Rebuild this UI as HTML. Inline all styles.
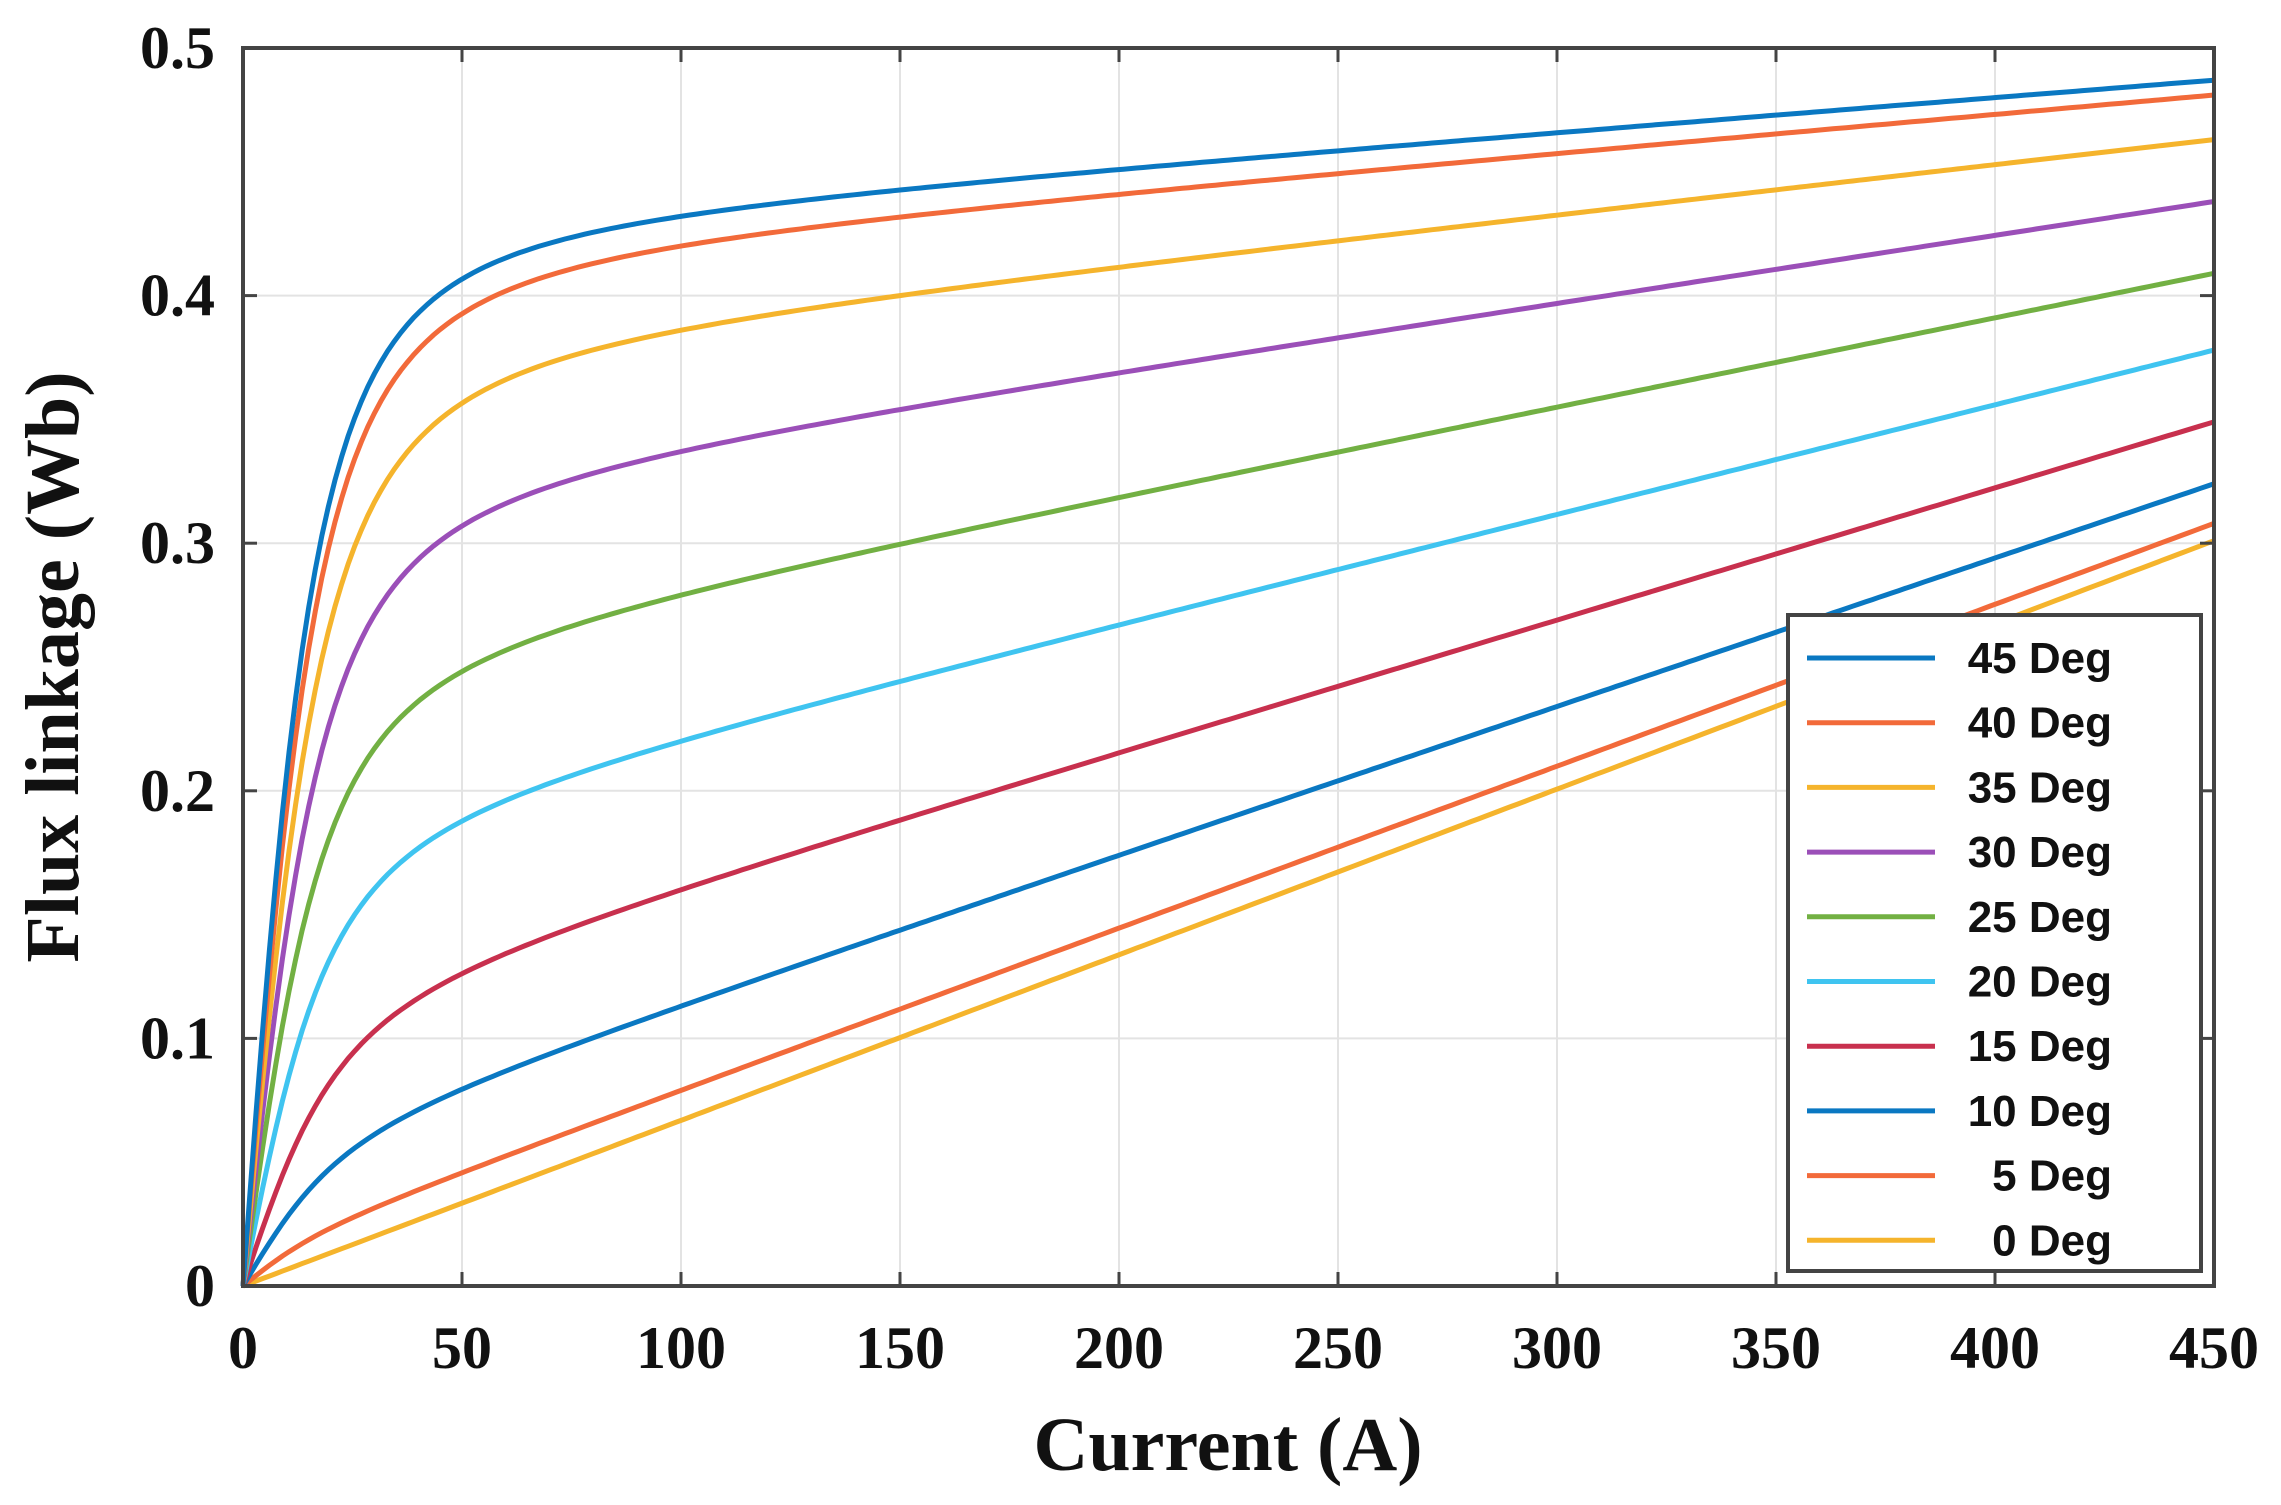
<!DOCTYPE html>
<html><head><style>body{margin:0;background:#fff}</style></head><body>
<svg id="s" width="2281" height="1500" xmlns="http://www.w3.org/2000/svg">
<g id="grid" stroke="#e3e3e3" stroke-width="2"></g>
<g id="curves" fill="none" stroke-width="5"></g>
<rect x="243" y="48" width="1971" height="1238" fill="none" stroke="#444" stroke-width="4"/>
<g id="ticks" stroke="#444" stroke-width="3"></g>
<g id="labels" font-family="Liberation Serif, serif" font-weight="bold" font-size="60" fill="#111"></g>
<text x="1228" y="1470" text-anchor="middle" font-family="Liberation Serif, serif" font-weight="bold" font-size="76" fill="#111">Current (A)</text>
<text transform="translate(78,667) rotate(-90)" text-anchor="middle" font-family="Liberation Serif, serif" font-weight="bold" font-size="76" fill="#111">Flux linkage (Wb)</text>
<rect x="1788" y="615" width="413" height="656" fill="#fff" stroke="#444" stroke-width="4"/>
<g id="legend" font-family="Liberation Sans, sans-serif" font-weight="bold" font-size="44" fill="#111"></g>
</svg>
<script>
const X=i=>243+i*1971/450, Y=v=>1286-v*1238/0.5;
const ns="http://www.w3.org/2000/svg";
function el(p,t,a,txt){const e=document.createElementNS(ns,t);for(const k in a)e.setAttribute(k,a[k]);if(txt!==undefined)e.textContent=txt;document.getElementById(p).appendChild(e);}
for(let i=50;i<450;i+=50){el('grid','line',{x1:X(i),x2:X(i),y1:48,y2:1286});el('ticks','line',{x1:X(i),x2:X(i),y1:1286,y2:1272});el('ticks','line',{x1:X(i),x2:X(i),y1:48,y2:62});}
for(let k=1;k<5;k++){const v=k/10;el('grid','line',{x1:243,x2:2214,y1:Y(v),y2:Y(v)});el('ticks','line',{x1:243,x2:257,y1:Y(v),y2:Y(v)});el('ticks','line',{x1:2214,x2:2200,y1:Y(v),y2:Y(v)});}
for(let i=0;i<=450;i+=50)el('labels','text',{x:X(i),y:1368,'text-anchor':'middle'},String(i));
for(let k=0;k<=5;k++)el('labels','text',{x:215,y:Y(k/10)+20,'text-anchor':'end'},k==0?'0':(k/10).toFixed(1));
const C=[["45",0.487,0.432,18,"#0a78c2"],["40",0.481,0.420,19,"#f26a3a"],["35",0.463,0.386,20,"#f5b42c"],["30",0.438,0.337,20,"#9b4fb8"],["25",0.409,0.279,20,"#72b043"],["20",0.378,0.220,21,"#3fc4f0"],["15",0.349,0.160,23,"#c8304e"],["10",0.324,0.113,23,"#0a78c2"],["5",0.308,0.079,18,"#f26a3a"],["0",0.301,0.067,20,"#f5b42c"]];
const f=u=>u/Math.sqrt(1+u*u);
C.slice().reverse().forEach(c=>{const [n,e,h,b,col]=c;let m,s;
if(n=="0"){m=e/450;s=0;}else{const a1=f(450/b),a2=f(100/b);const det=450*a2-100*a1;m=(e*a2-h*a1)/det;s=(450*h-100*e)/det;}
let d="";for(let i=0;i<=450;i+=1.5){const v=m*i+s*f(i/b);d+=(i?"L":"M")+X(i).toFixed(1)+","+Y(v).toFixed(1);}
el('curves','path',{d:d,stroke:col});});
C.forEach((c,k)=>{const y=658+k*64.7;el('legend','line',{x1:1807,x2:1935,y1:y,y2:y,stroke:c[4],'stroke-width':5});el('legend','text',{x:2112,y:y+15,'text-anchor':'end'},c[0]+" Deg");});
</script>
</body></html>
